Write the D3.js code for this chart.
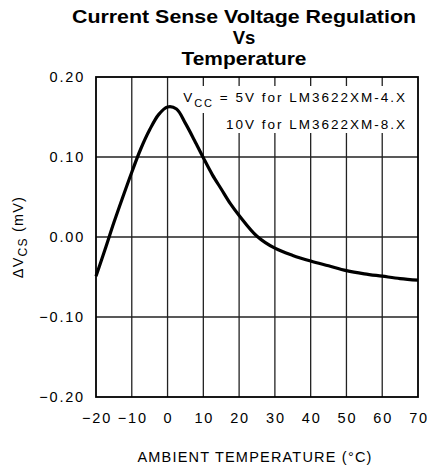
<!DOCTYPE html>
<html><head><meta charset="utf-8">
<script src="https://cdn.jsdelivr.net/npm/d3@7/dist/d3.min.js"></script>
<style>body{margin:0;background:#fff;}svg{display:block;}</style>
</head><body>
<svg id="c" width="427" height="470"></svg>
<script>
const titleLines = ["Current Sense Voltage Regulation", "Vs", "Temperature"];
const xTicks = [-20, -10, 0, 10, 20, 30, 40, 50, 60, 70];
const yTicks = [-0.20, -0.10, 0.00, 0.10, 0.20];
const temps = [-20, -17.5, -15, -12.5, -10, -7.5, -5, -2.5, 0, 2.5, 5, 7.5, 10, 12.5, 15, 17.5, 20, 25, 30, 35, 40, 45, 50, 55, 60, 65, 70];
const dVcs  = [-0.049, -0.016, 0.018, 0.050, 0.081, 0.110, 0.134, 0.153, 0.1625, 0.160, 0.142, 0.121, 0.099, 0.078, 0.060, 0.042, 0.027, 0.001, -0.014, -0.023, -0.030, -0.036, -0.042, -0.046, -0.049, -0.052, -0.054];

const svg = d3.select("#c");
const L = 96, R = 418, T = 77, B = 397;
const x = d3.scaleLinear().domain([-20, 70]).range([L, R]);
const y = d3.scaleLinear().domain([-0.20, 0.20]).range([B, T]);
const lab = "'Liberation Sans', Arial, sans-serif";

// title
const titleW = [344, 0, 125];
svg.append("g").selectAll("text").data(titleLines).join("text")
  .attr("x", 244).attr("y", (d, i) => [22.5, 43.5, 64.5][i])
  .attr("text-anchor", "middle").attr("font-family", lab).attr("font-weight", "bold")
  .attr("font-size", 18.5)
  .each(function (d, i) {
    if (titleW[i]) d3.select(this).attr("textLength", titleW[i]).attr("lengthAdjust", "spacingAndGlyphs");
  })
  .text(d => d);

// grid
const g = svg.append("g");
g.selectAll(".vx").data(xTicks.slice(1, -1)).join("line")
  .attr("x1", d => x(d)).attr("x2", d => x(d)).attr("y1", T).attr("y2", B)
  .attr("stroke", "#222").attr("stroke-width", 1.3);
g.selectAll(".hy").data(yTicks.slice(1, -1)).join("line")
  .attr("y1", d => y(d)).attr("y2", d => y(d)).attr("x1", L).attr("x2", R)
  .attr("stroke", "#222").attr("stroke-width", 1.3);

// annotation
const ann = svg.append("g").attr("font-family", lab).attr("font-size", 13.5).attr("letter-spacing", 2);
const bg = ann.append("g");
const t1 = ann.append("text").attr("x", 407).attr("y", 101.5).attr("text-anchor", "end");
t1.append("tspan").text("V");
t1.append("tspan").attr("dy", 5).attr("font-size", 11).text("CC");
t1.append("tspan").attr("dy", -5).text(" = 5V for LM3622XM-4.X");
const t2 = ann.append("text").attr("x", 407).attr("y", 129).attr("text-anchor", "end")
  .text("10V for LM3622XM-8.X");
[t1, t2].forEach((t, i) => {
  const b = t.node().getBBox();
  bg.append("rect").attr("x", b.x - 6).attr("y", i === 0 ? 86 : 113)
    .attr("width", R - 1 - (b.x - 6)).attr("height", i === 0 ? 27 : 20).attr("fill", "#fff");
});

// curve
const pts = temps.map((t, i) => [t, dVcs[i]]);
svg.append("path").datum(pts)
  .attr("d", d3.line().x(d => x(d[0])).y(d => y(d[1])).curve(d3.curveCatmullRom.alpha(0.5)))
  .attr("fill", "none").attr("stroke", "#000").attr("stroke-width", 3.2).attr("stroke-linejoin", "round");

// frame
svg.append("rect").attr("x", L).attr("y", T).attr("width", R - L).attr("height", B - T)
  .attr("fill", "none").attr("stroke", "#000").attr("stroke-width", 1.8);

// tick labels
const fmt = v => (v < 0 ? "\u2212" : "") + Math.abs(v).toFixed(2);
svg.append("g").selectAll("text").data(yTicks).join("text")
  .attr("x", 85).attr("y", d => y(d)).attr("dy", "0.36em").attr("text-anchor", "end")
  .attr("font-family", lab).attr("font-size", 14.5).attr("letter-spacing", 1.8).text(fmt);
svg.append("g").selectAll("text").data(xTicks).join("text")
  .attr("x", d => x(d) + 1).attr("y", 423).attr("text-anchor", "middle")
  .attr("font-family", lab).attr("font-size", 14.5).attr("letter-spacing", 1.8)
  .text(d => (d < 0 ? "\u2212" : "") + Math.abs(d));

// axis titles
svg.append("text").attr("x", 255).attr("y", 462).attr("text-anchor", "middle")
  .attr("font-family", lab).attr("font-size", 14.5).attr("letter-spacing", 1.2)
  .text("AMBIENT TEMPERATURE (\u00B0C)");
const yt = svg.append("text").attr("transform", "translate(22.5,237) rotate(-90)")
  .attr("text-anchor", "middle").attr("font-family", lab).attr("font-size", 14.5).attr("letter-spacing", 1.2);
yt.append("tspan").text("\u0394V");
yt.append("tspan").attr("dy", 4).attr("font-size", 12).text("CS");
yt.append("tspan").attr("dy", -4).text(" (mV)");
</script>
</body></html>
